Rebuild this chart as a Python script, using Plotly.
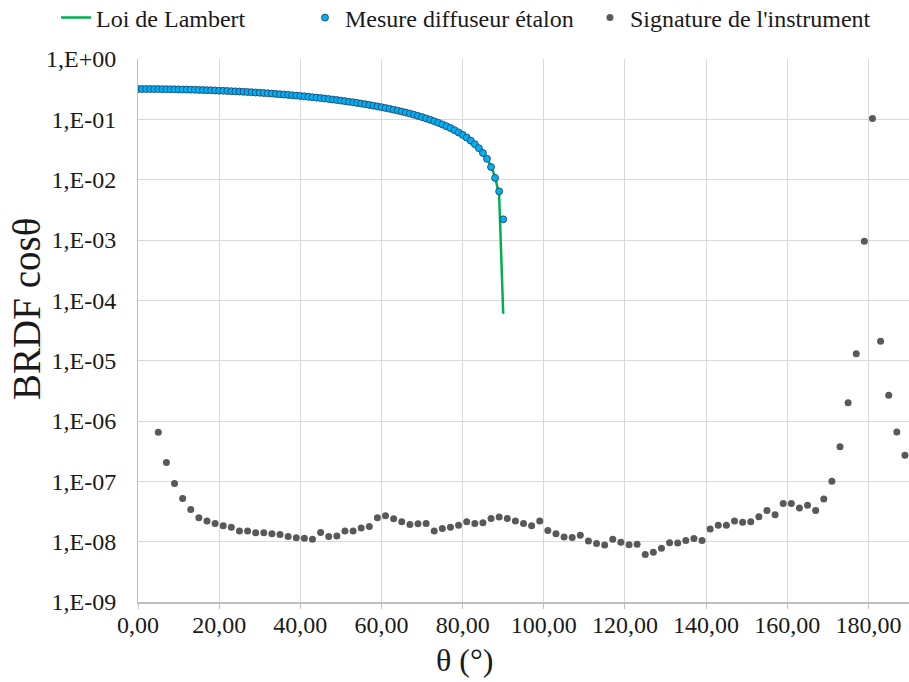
import plotly.graph_objects as go

# ---------------- data ----------------
theta_meas = list(range(0, 91))
brdf_meas = [
    0.3183, 0.3183, 0.3181, 0.3179, 0.3175, 0.3171, 0.3166, 0.3159, 0.3152, 0.3144,
    0.3135, 0.3125, 0.3114, 0.3102, 0.3089, 0.3075, 0.3060, 0.3044, 0.3027, 0.3010,
    0.2991, 0.2972, 0.2951, 0.2930, 0.2908, 0.2885, 0.2861, 0.2836, 0.2811, 0.2784,
    0.2757, 0.2728, 0.2699, 0.2670, 0.2639, 0.2607, 0.2575, 0.2542, 0.2508, 0.2474,
    0.2438, 0.2402, 0.2366, 0.2328, 0.2290, 0.2251, 0.2211, 0.2171, 0.2130, 0.2088,
    0.2046, 0.2003, 0.1960, 0.1916, 0.1871, 0.1826, 0.1780, 0.1734, 0.1687, 0.1639,
    0.1592, 0.1543, 0.1494, 0.1445, 0.1395, 0.1345, 0.1295, 0.1244, 0.1192, 0.1141,
    0.1089, 0.1036, 0.0984, 0.0931, 0.0877, 0.0824, 0.0770, 0.0716, 0.0662, 0.0607,
    0.0553, 0.0498, 0.0443, 0.0388, 0.0333, 0.0277, 0.0222, 0.0162, 0.0107, 0.0064,
    0.0022,
]

theta_lambert = list(range(0, 91))
brdf_lambert = [
    0.3183, 0.3183, 0.3181, 0.3179, 0.3175, 0.3171, 0.3166, 0.3159, 0.3152, 0.3144,
    0.3135, 0.3125, 0.3114, 0.3102, 0.3089, 0.3075, 0.3060, 0.3044, 0.3027, 0.3010,
    0.2991, 0.2972, 0.2951, 0.2930, 0.2908, 0.2885, 0.2861, 0.2836, 0.2811, 0.2784,
    0.2757, 0.2728, 0.2699, 0.2670, 0.2639, 0.2607, 0.2575, 0.2542, 0.2508, 0.2474,
    0.2438, 0.2402, 0.2366, 0.2328, 0.2290, 0.2251, 0.2211, 0.2171, 0.2130, 0.2088,
    0.2046, 0.2003, 0.1960, 0.1916, 0.1871, 0.1826, 0.1780, 0.1734, 0.1687, 0.1639,
    0.1592, 0.1543, 0.1494, 0.1445, 0.1395, 0.1345, 0.1295, 0.1244, 0.1192, 0.1141,
    0.1089, 0.1036, 0.0984, 0.0931, 0.0877, 0.0824, 0.0770, 0.0716, 0.0662, 0.0607,
    0.0553, 0.0498, 0.0443, 0.0388, 0.0333, 0.0277, 0.0222, 0.0167, 0.0111, 0.00556,
    6.0e-5,
]

theta_inst = list(range(5, 190, 2))
brdf_inst = [
    6.5e-7, 2.05e-7, 9.2e-8, 5.2e-8, 3.4e-8, 2.5e-8, 2.2e-8, 2.0e-8, 1.83e-8, 1.74e-8,
    1.5e-8, 1.5e-8, 1.41e-8, 1.40e-8, 1.35e-8, 1.32e-8, 1.22e-8, 1.16e-8, 1.14e-8, 1.10e-8,
    1.42e-8, 1.22e-8, 1.24e-8, 1.5e-8, 1.5e-8, 1.68e-8, 1.79e-8, 2.5e-8, 2.7e-8, 2.4e-8,
    2.14e-8, 1.93e-8, 1.99e-8, 2.0e-8, 1.5e-8, 1.66e-8, 1.74e-8, 1.88e-8, 2.14e-8, 2.0e-8,
    2.05e-8, 2.43e-8, 2.56e-8, 2.43e-8, 2.2e-8, 2.0e-8, 1.84e-8, 2.2e-8, 1.53e-8, 1.35e-8,
    1.2e-8, 1.17e-8, 1.28e-8, 1.03e-8, 9.3e-9, 8.8e-9, 1.1e-8, 9.8e-9, 8.9e-9, 9.1e-9,
    6.1e-9, 6.7e-9, 7.8e-9, 9.6e-9, 9.5e-9, 1.05e-8, 1.13e-8, 1.05e-8, 1.62e-8, 1.87e-8,
    1.88e-8, 2.2e-8, 2.1e-8, 2.14e-8, 2.6e-8, 3.3e-8, 2.8e-8, 4.3e-8, 4.3e-8, 3.6e-8,
    4.0e-8, 3.3e-8, 5.1e-8, 1.0e-7, 3.75e-7, 2.0e-6, 1.3e-5, 9.5e-4, 0.103, 2.1e-5,
    2.66e-6, 6.6e-7, 2.7e-7,
]

x_tickvals = [0, 20, 40, 60, 80, 100, 120, 140, 160, 180]
x_ticktext = ["0,00", "20,00", "40,00", "60,00", "80,00", "100,00",
              "120,00", "140,00", "160,00", "180,00"]
y_tickvals = [1e0, 1e-1, 1e-2, 1e-3, 1e-4, 1e-5, 1e-6, 1e-7, 1e-8, 1e-9]
y_ticktext = ["1,E+00", "1,E-01", "1,E-02", "1,E-03", "1,E-04", "1,E-05",
              "1,E-06", "1,E-07", "1,E-08", "1,E-09"]

series_names = ["Loi de Lambert", "Mesure diffuseur étalon", "Signature de l'instrument"]

# ---------------- figure ----------------
FONT = "Times New Roman, Liberation Serif, serif"
TXT = "#1a1a1a"
GRID = "#d9d9d9"

fig = go.Figure()
fig.add_trace(go.Scatter(
    x=theta_lambert, y=brdf_lambert, mode="lines", name=series_names[0],
    line=dict(color="#00b050", width=2.5), legend="legend", showlegend=True,
))
fig.add_trace(go.Scatter(
    x=theta_meas, y=brdf_meas, mode="markers", name=series_names[1],
    marker=dict(color="#00b0f0", size=7, line=dict(color="#1f3864", width=0.8)),
    legend="legend2", showlegend=True,
))
fig.add_trace(go.Scatter(
    x=theta_inst, y=brdf_inst, mode="markers", name=series_names[2],
    marker=dict(color="#595959", size=7), legend="legend3", showlegend=True,
))

legend_common = dict(orientation="h", xref="container", yref="container",
                     yanchor="middle", y=0.9736, xanchor="left",
                     font=dict(family=FONT, size=24, color=TXT),
                     bgcolor="rgba(0,0,0,0)", borderwidth=0)

fig.update_layout(
    width=909, height=682,
    margin=dict(l=138, r=0, t=59, b=80, autoexpand=False),
    paper_bgcolor="white", plot_bgcolor="white",
    font=dict(family=FONT, size=24, color=TXT),
    showlegend=True,
    legend=dict(x=0.0616, **legend_common),
    legend2=dict(x=0.3355, **legend_common),
    legend3=dict(x=0.649, **legend_common),
    xaxis=dict(
        range=[0, 190], tickvals=x_tickvals, ticktext=x_ticktext,
        showgrid=True, gridcolor=GRID, gridwidth=1,
        showline=True, linecolor="#bfbfbf", linewidth=1.5,
        ticks="", zeroline=False, automargin=False,
        minor=dict(tickvals=x_tickvals, ticks="outside", ticklen=5,
                   tickcolor="#bfbfbf", showgrid=False),
        tickfont=dict(family=FONT, size=24, color=TXT),
    ),
    yaxis=dict(
        type="log", range=[-9, 0], tickvals=y_tickvals, ticktext=y_ticktext,
        showgrid=True, gridcolor=GRID, gridwidth=1,
        showline=True, linecolor="#bfbfbf", linewidth=1,
        ticks="", zeroline=False, ticklabelstandoff=16, automargin=False,
        tickfont=dict(family=FONT, size=24, color=TXT),
    ),
    annotations=[
        dict(text="BRDF cosθ", textangle=-90, xref="paper", yref="paper",
             x=-0.144, y=0.5396, xanchor="center", yanchor="middle", showarrow=False,
             font=dict(family=FONT, size=39, color=TXT)),
        dict(text="θ (°)", xref="paper", yref="paper",
             x=0.4241, y=-0.1068, xanchor="center", yanchor="middle", showarrow=False,
             font=dict(family=FONT, size=32, color=TXT)),
    ],
)

# remove the default 8px page margin so the 909x682 figure fills the window exactly
fig.write_html("out.html", config={"displayModeBar": False},
               post_script="document.body.style.margin='0px';")
